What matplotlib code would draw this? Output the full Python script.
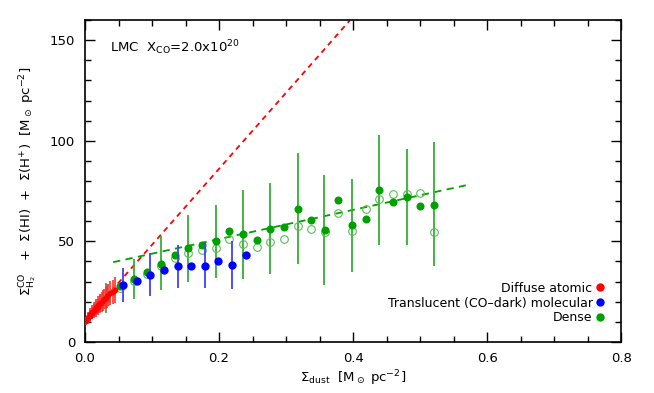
import numpy as np
import matplotlib.pyplot as plt
from matplotlib.ticker import MultipleLocator
from matplotlib.lines import Line2D

# diffuse atomic (red)
red_x = [0.002, 0.004, 0.005, 0.007, 0.008, 0.010, 0.011, 0.013, 0.014, 0.016,
         0.017, 0.019, 0.020, 0.022, 0.023, 0.025, 0.027, 0.029, 0.031, 0.033,
         0.035, 0.038, 0.041, 0.044]
red_y = [10.5, 11.8, 12.2, 13.0, 13.8, 14.2, 15.0, 15.3, 16.1, 16.5,
         17.2, 17.5, 18.3, 18.8, 19.2, 20.0, 20.6, 21.5, 22.0, 22.6,
         23.2, 24.1, 25.0, 25.8]
red_err = [2.0, 2.5, 2.5, 3.0, 3.0, 3.0, 3.5, 3.5, 3.5, 4.0,
           4.0, 4.0, 4.5, 4.5, 4.5, 5.0, 5.0, 5.0, 5.5, 5.5,
           5.5, 6.0, 6.0, 6.5]

# translucent CO-dark molecular (blue)
blue_x = [0.056, 0.077, 0.097, 0.118, 0.138, 0.158, 0.179, 0.199, 0.219, 0.240]
blue_y = [28.2, 30.5, 33.4, 35.9, 37.7, 37.7, 37.8, 40.3, 38.2, 43.0]
blue_bar_x = [0.056, 0.097, 0.138, 0.179, 0.219]
blue_bar_lo = [20.0, 23.0, 26.7, 26.7, 26.3]
blue_bar_hi = [36.7, 44.3, 48.3, 49.0, 50.3]

# dense (green)
green_x = [0.032, 0.052, 0.073, 0.093, 0.113, 0.134, 0.154, 0.174, 0.195, 0.215,
           0.235, 0.256, 0.276, 0.297, 0.317, 0.337, 0.358, 0.378, 0.398, 0.419,
           0.439, 0.460, 0.480, 0.500, 0.520]
green_y = [21.2, 27.8, 31.2, 35.0, 38.8, 43.3, 46.7, 48.3, 50.0, 55.3,
           53.5, 50.8, 56.3, 57.2, 66.3, 60.8, 55.5, 70.4, 58.0, 61.3,
           75.5, 69.7, 72.2, 67.8, 68.3]
green_open_y = [20.0, 27.0, 30.5, 34.0, 37.5, 41.5, 44.0, 45.5, 46.5, 51.2,
                48.8, 47.0, 49.7, 51.3, 57.6, 56.1, 54.8, 64.0, 55.0, 66.2,
                70.8, 73.7, 73.7, 74.2, 54.5]
green_bar_x = [0.032, 0.073, 0.113, 0.154, 0.195, 0.235, 0.276, 0.317, 0.357,
               0.398, 0.439, 0.480, 0.520]
green_bar_lo = [14.6, 21.5, 25.6, 30.0, 31.7, 31.2, 33.7, 38.8, 28.1,
                34.7, 48.3, 48.0, 37.8]
green_bar_hi = [29.2, 41.0, 52.5, 63.3, 68.3, 75.5, 79.2, 93.8, 82.8,
                80.8, 102.8, 95.8, 99.2]

# fitted lines: slope, intercept, x range
red_fit = (378.0, 10.5)
red_fit_range = (0.0, 0.395)
green_fit = (72.6, 36.6)
green_fit_range = (0.042, 0.568)

RED = '#ff0000'
BLUE = '#0000ff'
GREEN = '#00a000'

fig = plt.figure(figsize=(6.54, 3.93), dpi=100)
ax = fig.add_axes([0.130, 0.130, 0.820, 0.819])

# fit lines
xr = np.array(red_fit_range)
ax.plot(xr, red_fit[0] * xr + red_fit[1], color=RED, ls=(0, (3, 2.5)), lw=1.3, zorder=2)
xg = np.array(green_fit_range)
ax.plot(xg, green_fit[0] * xg + green_fit[1], color=GREEN, ls=(0, (4, 3)), lw=1.3, zorder=2)

# green
ax.vlines(green_bar_x, green_bar_lo, green_bar_hi, color='#33b033', lw=1.3, zorder=3)
ax.plot(green_x, green_open_y, 'o', mfc='none', mec='#55c055', ms=5.5, mew=0.8, zorder=3)
ax.plot(green_x, green_y, 'o', color=GREEN, ms=5.8, mew=0, zorder=4)

# blue
ax.vlines(blue_bar_x, blue_bar_lo, blue_bar_hi, color='#4040ff', lw=1.3, zorder=5)
ax.plot(blue_x, blue_y, 'o', color=BLUE, ms=6, mew=0, zorder=6)

# red
red_lo = [y - e for y, e in zip(red_y, red_err)]
red_hi = [y + e for y, e in zip(red_y, red_err)]
ax.vlines(red_x, red_lo, red_hi, color='#ff3030', lw=1.2, zorder=7)
ax.plot(red_x, red_y, 'o', color=RED, ms=4, mew=0, zorder=8)

ax.set_xlim(0, 0.8)
ax.set_ylim(0, 160)
ax.xaxis.set_major_locator(MultipleLocator(0.2))
ax.xaxis.set_minor_locator(MultipleLocator(0.05))
ax.yaxis.set_major_locator(MultipleLocator(50))
ax.yaxis.set_minor_locator(MultipleLocator(10))
ax.xaxis.set_major_formatter(plt.FuncFormatter(lambda v, p: '%.1f' % v))
ax.tick_params(which='both', direction='in', top=True, right=True, labelsize=9.5, width=1)
ax.tick_params(which='major', length=7, pad=7)
ax.tick_params(which='minor', length=4)
for s in ax.spines.values():
    s.set_linewidth(1.2)

ax.set_xlabel(r'$\Sigma_{\rm dust}$  [M$_\odot$ pc$^{-2}$]', fontsize=9.5, labelpad=3)
ax.set_ylabel(r'$\Sigma^{\rm CO}_{\rm H_2}$   +  $\Sigma$(HI)  +  $\Sigma$(H$^{+}$)  [M$_\odot$ pc$^{-2}$]',
              fontsize=9.5, labelpad=8)

ax.text(0.047, 0.913, r'LMC  X$_{\rm CO}$=2.0x10$^{20}$', transform=ax.transAxes,
        fontsize=9.5, va='center', ha='left')

handles = [Line2D([], [], ls='none', marker='o', color=c, ms=6, mew=0) for c in (RED, BLUE, GREEN)]
labels = ['Diffuse atomic', 'Translucent (CO\u2013dark) molecular', 'Dense']
ax.legend(handles, labels, loc='lower right', markerfirst=False, frameon=False,
          fontsize=9, handlelength=0.6, handletextpad=0.3, labelspacing=0.15,
          borderaxespad=1.0)

fig.savefig('out.png', dpi=100)
